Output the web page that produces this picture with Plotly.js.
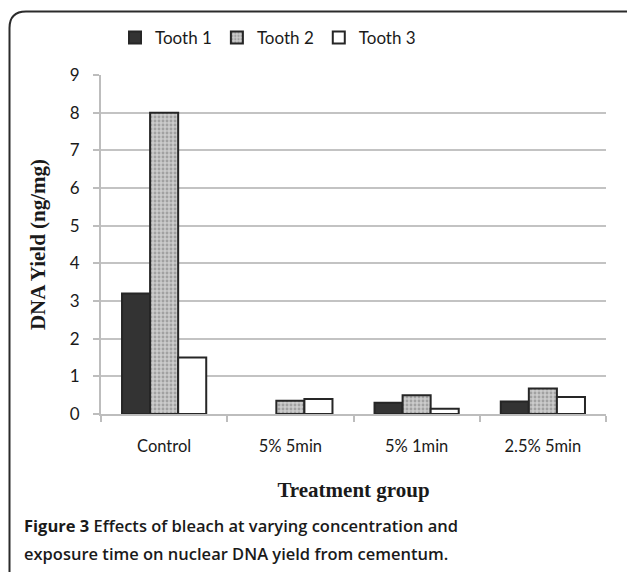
<!DOCTYPE html>
<html>
<head>
<meta charset="utf-8">
<script src="https://cdn.plot.ly/plotly-3.0.1.min.js"></script>
<style>
html,body{margin:0;padding:0;background:#fff;}
#chart{width:627px;height:572px;}
</style>
</head>
<body>
<div id="chart"></div>
<script>
const categories = ["Control", "5% 5min", "5% 1min", "2.5% 5min"];
const tooth1 = [3.2, 0, 0.3, 0.33];
const tooth2 = [8.0, 0.35, 0.5, 0.68];
const tooth3 = [1.5, 0.4, 0.14, 0.45];
const seriesNames = ["Tooth 1", "Tooth 2", "Tooth 3"];
const yTicks = [0, 1, 2, 3, 4, 5, 6, 7, 8, 9];

const outline = vals => ({color: "#262626", width: vals.map(v => v > 0 ? 2 : 0)});
const traces = [
  {type: "bar", name: seriesNames[0], x: categories, y: tooth1,
   marker: {color: "#333333", line: outline(tooth1)}},
  {type: "bar", name: seriesNames[1], x: categories, y: tooth2,
   marker: {color: "#c4c4c4", line: outline(tooth2),
            pattern: {shape: ".", fgcolor: "#777777", bgcolor: "#cbcbcb", size: 4, solidity: 0.4, fillmode: "overlay"}}},
  {type: "bar", name: seriesNames[2], x: categories, y: tooth3,
   marker: {color: "#ffffff", line: outline(tooth3)}}
];

// pixel -> paper helpers for decoration (frame, caption)
const L = 101, R = 606, T = 75, B = 414;
const px = v => (v - L) / (R - L);
const py = v => (B - v) / (B - T);

const layout = {
  width: 627, height: 572,
  margin: {l: L, r: 627 - R, t: T, b: 572 - B, pad: 0},
  paper_bgcolor: "#ffffff", plot_bgcolor: "#ffffff",
  font: {family: "Lato, 'Open Sans', sans-serif", size: 16, color: "#1a1a1a"},
  bargap: 0.333, bargroupgap: 0,
  barmode: "group",
  showlegend: true,
  legend: {orientation: "h", x: px(268), xanchor: "center", y: py(38), yanchor: "middle",
           font: {family: "Lato, sans-serif", size: 17, color: "#1a1a1a"},
           itemwidth: 30, tracegroupgap: 0, traceorder: "normal"},
  xaxis: {type: "category", showgrid: false, showline: true, linecolor: "#bdbdbd", linewidth: 2,
          ticks: "outside", ticklen: 6, tickcolor: "#bdbdbd", tickwidth: 2, tickson: "boundaries",
          ticklabelstandoff: 16, tickfont: {family: "Lato, sans-serif", size: 16.5, color: "#1a1a1a"},
          title: {text: "Treatment group", standoff: 28,
                  font: {family: "'Liberation Serif', 'Times New Roman', serif", size: 21, color: "#1a1a1a", weight: "bold"}},
          fixedrange: true},
  yaxis: {range: [0, 9], tickvals: yTicks, showgrid: true, gridcolor: "#c3c3c3", gridwidth: 2,
          showline: true, linecolor: "#bdbdbd", linewidth: 2, zeroline: false,
          ticks: "outside", ticklen: 6, tickcolor: "#bdbdbd", tickwidth: 2,
          ticklabelstandoff: 10, tickfont: {family: "Lato, sans-serif", size: 17, color: "#1a1a1a"},
          title: {text: "DNA Yield (ng/mg)", standoff: 18,
                  font: {family: "'Liberation Serif', 'Times New Roman', serif", size: 21, color: "#1a1a1a", weight: "bold"}},
          fixedrange: true},
  shapes: [
    {type: "path", xref: "paper", yref: "paper",
     path: `M ${px(9.5)} ${py(600)} L ${px(9.5)} ${py(28)} Q ${px(9.5)} ${py(11.5)} ${px(26)} ${py(11.5)} L ${px(640)} ${py(11.5)}`,
     line: {color: "#2b2b2b", width: 2}}
  ],
  annotations: [
    {xref: "paper", yref: "paper", x: px(22), y: py(525), xanchor: "left", yanchor: "middle", showarrow: false,
     align: "left",
     text: "<b>Figure 3</b> Effects of bleach at varying concentration and",
     font: {family: "'Open Sans', sans-serif", size: 16.5, color: "#1a1a1a", weight: 600}},
    {xref: "paper", yref: "paper", x: px(22), y: py(553), xanchor: "left", yanchor: "middle", showarrow: false,
     align: "left",
     text: "exposure time on nuclear DNA yield from cementum.",
     font: {family: "'Open Sans', sans-serif", size: 16.5, color: "#1a1a1a", weight: 600}}
  ]
};

Plotly.newPlot("chart", traces, layout, {displayModeBar: false, staticPlot: true});
</script>
</body>
</html>
